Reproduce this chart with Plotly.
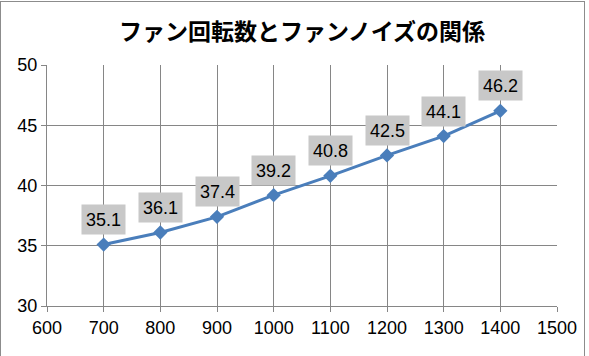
import plotly.graph_objects as go

rpm = [700, 800, 900, 1000, 1100, 1200, 1300, 1400]
noise = [35.1, 36.1, 37.4, 39.2, 40.8, 42.5, 44.1, 46.2]
x_ticks = [600, 700, 800, 900, 1000, 1100, 1200, 1300, 1400, 1500]
y_ticks = [30, 35, 40, 45, 50]
title = "ファン回転数とファンノイズの関係"

W, H = 589, 356
ml, mr, mt, mb = 47, 32, 65, 50
FONT = "Liberation Sans, Arial"

fig = go.Figure()
fig.add_trace(go.Scatter(
    x=rpm, y=noise, mode="lines+markers",
    line=dict(color="#4a7ebb", width=3),
    marker=dict(symbol="diamond", size=11, color="#4a7ebb"),
    hoverinfo="skip",
))

for xv, yv in zip(rpm, noise):
    fig.add_annotation(
        x=xv, y=yv, xref="x", yref="y", text=f"{yv:.1f}",
        showarrow=False, yshift=25, bgcolor="#c8c8c8",
        font=dict(family=FONT, size=18, color="#000000"),
        width=43, height=29, borderpad=0,
    )

fig.update_layout(
    width=W, height=H,
    margin=dict(l=ml, r=mr, t=mt, b=mb),
    paper_bgcolor="white", plot_bgcolor="white",
    showlegend=False,
    hovermode=False,
    title=dict(text=title, x=0.5, xref="paper", y=1 - 32 / H, yref="container",
               xanchor="center", yanchor="middle",
               font=dict(family="Noto Sans CJK JP", size=23, color="#000000", weight="bold")),
    xaxis=dict(range=[600, 1500], tickvals=x_ticks, showgrid=True, gridcolor="#868686",
               gridwidth=1, showline=True, linecolor="#868686", linewidth=1,
               ticks="outside", ticklen=5, tickcolor="#868686", zeroline=False,
               tickfont=dict(family=FONT, size=18, color="#000000")),
    yaxis=dict(range=[30, 50], tickvals=y_ticks, showgrid=True, gridcolor="#868686",
               gridwidth=1, showline=True, linecolor="#868686", linewidth=1,
               ticks="outside", ticklen=5, tickcolor="#868686", zeroline=False,
               tickfont=dict(family=FONT, size=18, color="#000000")),
)

post = (
    "document.body.style.margin='0';document.body.style.overflow='hidden';"
    "var f=document.createElement('div');"
    "f.style.cssText='position:absolute;left:0px;top:1px;width:585px;height:370px;"
    "border:1px solid #8c8c8c;pointer-events:none;box-sizing:border-box;';"
    "document.body.appendChild(f);"
)
fig.write_html("out.html", config={"displayModeBar": False, "staticPlot": True},
               post_script=post)
